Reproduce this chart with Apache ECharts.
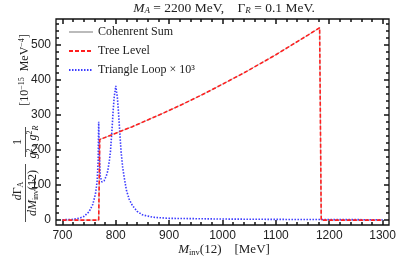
<!DOCTYPE html>
<html><head><meta charset="utf-8">
<script src="https://cdn.jsdelivr.net/npm/echarts@6/dist/echarts.min.js"></script>
<style>html,body{margin:0;padding:0;background:#fff}#c{width:399px;height:261px}</style>
</head><body><div id="c"></div>
<script>
// ---- data ----
const xTickLabels = [700, 800, 900, 1000, 1100, 1200, 1300];
const yTickLabels = [0, 100, 200, 300, 400, 500];

const treeLevel = [[700,0],[768,0],[770,230],[800,248],[830,266],[860,286],[890,306],[920,327],[950,349],[980,372],[1010,396],[1040,420],[1070,446],[1100,472],[1130,500],[1160,528],[1182,549],[1185,0],[1300,0]];
const coherentSum = [[700,0],[768,0],[770,230],[800,248],[830,266],[860,286],[890,306],[920,327],[950,349],[980,372],[1010,396],[1040,420],[1070,446],[1100,472],[1130,500],[1160,528],[1182,549],[1185,0],[1300,0]];
const triangleLoop = [[700,1],[720,2],[731,5],[740,10],[750,24],[757,45],[762,75],[765,110],[767,170],[768,281],[769,200],[771,125],[774,109],[778,112],[782,125],[785,140],[788,170],[790,195],[793,260],[795,310],[797,350],[800,383],[803,350],[805,310],[808,240],[810,195],[813,150],[816,120],[820,85],[825,60],[831,42],[840,25],[850,15],[870,8],[900,5],[1000,3],[1100,2],[1200,1.5],[1300,1]];

const serif = '"Liberation Serif", "DejaVu Serif", serif';
const sans = '"Liberation Sans", Arial, sans-serif';
const xMin = 688, xMax = 1312, yMin = -14, yMax = 574;
const frameColor = '#111';
const txt = '#222';

const G = {left: 56, right: 10, top: 19, bottom: 36, w: 333, h: 206};
const kx = G.w / (xMax - xMin), ky = G.h / (yMax - yMin);
const gridXT = {left: G.left + (700 - xMin) * kx, right: G.right + (xMax - 1300) * kx, top: G.top, bottom: G.bottom};
const gridYMaj = {left: G.left, right: G.right, top: G.top + (yMax - 500) * ky, bottom: G.bottom + (0 - yMin) * ky};
const gridYMin = {left: G.left, right: G.right, top: G.top + (yMax - 560) * ky, bottom: G.bottom + (0 - yMin) * ky};

function tickAxis(grid, pos, min, max, interval, len) {
  return {type: 'value', gridIndex: grid, position: pos, min: min, max: max, interval: interval,
    axisLine: {show: false, onZero: false}, splitLine: {show: false}, axisLabel: {show: false},
    axisTick: {show: true, inside: true, length: len, lineStyle: {color: frameColor, width: 1.5}}};
}
function hiddenAxis(grid) {
  return {type: 'value', gridIndex: grid, show: false, min: 0, max: 1};
}

const chart = echarts.init(document.getElementById('c'), null, {renderer: 'canvas'});
const richBase = {
  i: {fontStyle: 'italic', fontFamily: serif, fontSize: 12, lineHeight: 14, color: txt},
  n: {fontFamily: serif, fontSize: 12, lineHeight: 14, color: txt},
  s: {fontFamily: serif, fontSize: 8, lineHeight: 8, verticalAlign: 'bottom', color: txt},
  si: {fontFamily: serif, fontStyle: 'italic', fontSize: 8, lineHeight: 8, verticalAlign: 'bottom', color: txt},
  u: {fontFamily: serif, fontSize: 8, lineHeight: 8, verticalAlign: 'top', color: txt}
};
const richTitle = {
  i: {fontStyle: 'italic', fontFamily: serif, fontSize: 13.5, lineHeight: 15, color: txt},
  n: {fontFamily: serif, fontSize: 13.5, lineHeight: 15, color: txt},
  si: {fontFamily: serif, fontStyle: 'italic', fontSize: 9, lineHeight: 8, verticalAlign: 'bottom', color: txt}
};
const richXLabel = {
  i: {fontStyle: 'italic', fontFamily: serif, fontSize: 13, lineHeight: 15, color: txt},
  n: {fontFamily: serif, fontSize: 13, lineHeight: 15, color: txt},
  s: {fontFamily: serif, fontSize: 8.5, lineHeight: 8, verticalAlign: 'bottom', color: txt}
};
const centered = {align: 'center', verticalAlign: 'middle', textAlign: 'center', textVerticalAlign: 'middle'};
function rotText(x, y, text) {
  return {type: 'text', x: x, y: y, rotation: Math.PI / 2, style: Object.assign({
    text: text, rich: richBase, fontFamily: serif, fontSize: 12, fill: txt}, centered)};
}

chart.setOption({
  animation: false,
  backgroundColor: '#fff',
  grid: [
    {left: G.left, right: G.right, top: G.top, bottom: G.bottom, show: true, borderColor: frameColor, borderWidth: 1.3, backgroundColor: 'transparent'},
    gridXT, gridYMaj, gridYMin
  ],
  xAxis: [
    {type: 'value', gridIndex: 0, min: xMin, max: xMax,
     axisLine: {show: false}, splitLine: {show: false}, axisTick: {show: false},
     axisLabel: {customValues: xTickLabels, color: txt, fontFamily: sans, fontSize: 12, margin: 5, formatter: v => String(v)}},
    tickAxis(1, 'bottom', 700, 1300, 100, 5),
    tickAxis(1, 'bottom', 700, 1300, 20, 3),
    tickAxis(1, 'top', 700, 1300, 100, 5),
    tickAxis(1, 'top', 700, 1300, 20, 3),
    hiddenAxis(2), hiddenAxis(3)
  ],
  yAxis: [
    {type: 'value', gridIndex: 0, min: yMin, max: yMax,
     axisLine: {show: false}, splitLine: {show: false}, axisTick: {show: false},
     axisLabel: {customValues: yTickLabels, color: txt, fontFamily: sans, fontSize: 12, margin: 5, formatter: v => String(v)}},
    hiddenAxis(1),
    tickAxis(2, 'left', 0, 500, 100, 5),
    tickAxis(2, 'right', 0, 500, 100, 5),
    tickAxis(3, 'left', 0, 560, 20, 3),
    tickAxis(3, 'right', 0, 560, 20, 3)
  ],
  legend: {
    orient: 'vertical', left: 63, top: 21, itemWidth: 24, itemHeight: 10, itemGap: 7,
    textStyle: {fontFamily: serif, fontSize: 12, color: txt},
    itemStyle: {color: 'rgba(0,0,0,0)', borderWidth: 0, opacity: 0},
    data: ['Cohenrent Sum', 'Tree Level', 'Triangle Loop × 10³']
  },
  series: [
    {name: 'Cohenrent Sum', type: 'line', data: coherentSum, symbol: 'none', z: 1,
     lineStyle: {color: '#bbbbbb', width: 1, type: 'solid'}, itemStyle: {color: '#bbbbbb'}},
    {name: 'Tree Level', type: 'line', data: treeLevel, symbol: 'none', z: 3,
     lineStyle: {color: '#ff1f1f', width: 1.6, type: [4, 2]}, itemStyle: {color: '#ff1f1f'}},
    {name: 'Triangle Loop × 10³', type: 'line', data: triangleLoop, symbol: 'none', z: 2,
     lineStyle: {color: '#3b3bff', width: 1.6, type: [1.5, 1.5]}, itemStyle: {color: '#3b3bff'}}
  ],
  graphic: [
    {type: 'text', x: 224, y: 8, style: Object.assign({
      text: '{i|M}{si|A}{n| = 2200 MeV,    Γ}{si|R}{n| = 0.1 MeV.}', rich: richTitle,
      fontFamily: serif, fontSize: 13, fill: txt}, centered)},
    {type: 'text', x: 224, y: 250, style: Object.assign({
      text: '{i|M}{s|inv}{n|(12)    [MeV]}', rich: richXLabel,
      fontFamily: serif, fontSize: 13, fill: txt}, centered)},
    rotText(18, 191, '{i|d}{n|Γ}{s|A}'),
    {type: 'line', shape: {x1: 25.5, y1: 164, x2: 25.5, y2: 222}, style: {stroke: txt, lineWidth: 0.8}},
    rotText(33, 193, '{i|dM}{s|inv}{n|(12)}'),
    rotText(18, 142, '{n|1}'),
    {type: 'line', shape: {x1: 25.5, y1: 127, x2: 25.5, y2: 157}, style: {stroke: txt, lineWidth: 0.8}},
    rotText(33, 142, '{i|g}{u|2}{si|A}{i| g}{u|2}{si|R}'),
    rotText(25, 70, '{n|[10}{u|−15}{n|  MeV}{u|−4}{n|]}')
  ]
});
</script>
</body></html>
